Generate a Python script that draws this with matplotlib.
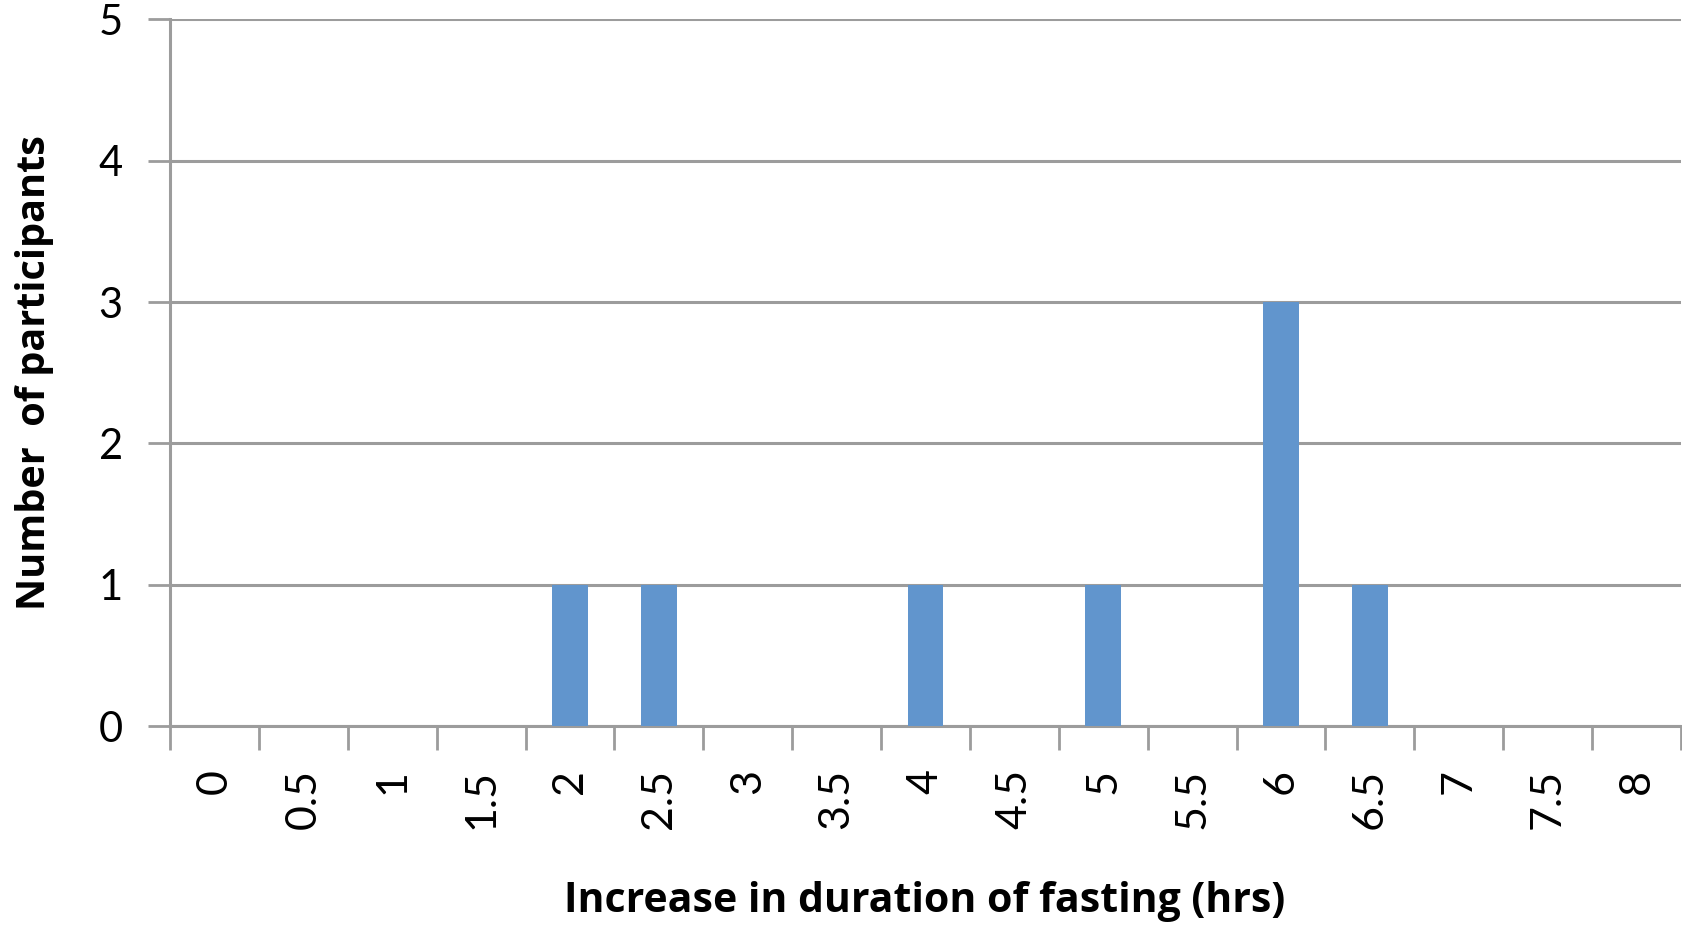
import matplotlib
matplotlib.use("Agg")
import matplotlib.pyplot as plt
import numpy as np

categories = ['0', '0.5', '1', '1.5', '2', '2.5', '3', '3.5', '4', '4.5',
              '5', '5.5', '6', '6.5', '7', '7.5', '8']
counts = [0, 0, 0, 0, 1, 1, 0, 0, 1, 0, 1, 0, 3, 1, 0, 0, 0]
y_ticks = [0, 1, 2, 3, 4, 5]

plt.rcParams['font.family'] = ['Lato', 'DejaVu Sans']

bar_color = '#6195CD'
grid_color = '#9c9c9c'

fig = plt.figure(figsize=(16.82, 9.30), dpi=100)
ax = fig.add_axes([170 / 1682, 1 - 726 / 930, 1511 / 1682, (726 - 19.5) / 930])

x = np.arange(len(categories))
ax.bar(x, counts, width=0.4, color=bar_color, zorder=3)

ax.set_xlim(-0.5, len(categories) - 0.5)
ax.set_ylim(0, 5)

# y axis
ax.set_yticks(y_ticks)
ax.set_yticklabels([str(v) for v in y_ticks], fontsize=30)
ax.tick_params(axis='y', direction='out', length=16, width=2,
               color=grid_color, pad=18)
ax.yaxis.grid(True, color=grid_color, linewidth=2.2, zorder=0)
ax.set_axisbelow(True)

# x axis: ticks at category boundaries, labels at centers
ax.set_xticks(np.arange(-0.5, len(categories), 1.0))
ax.set_xticklabels([])
ax.set_xticks(x, minor=True)
ax.set_xticklabels(categories, minor=True, rotation=90, fontsize=31)
ax.tick_params(axis='x', which='major', direction='out', length=17,
               width=2, color=grid_color)
ax.tick_params(axis='x', which='minor', length=0, pad=31)

for s in ['top', 'right']:
    ax.spines[s].set_visible(False)
for s in ['left', 'bottom']:
    ax.spines[s].set_color(grid_color)
    ax.spines[s].set_linewidth(2.2)

fig.text(35 / 1682, 1 - 373 / 930, 'Number  of participants', rotation=90,
         fontsize=28.5, fontweight='bold', ha='center', va='center',
         family=['Open Sans', 'DejaVu Sans'])
fig.text(925 / 1682, 1 - 901 / 930, 'Increase in duration of fasting (hrs)',
         fontsize=29.5, fontweight='bold', ha='center', va='center',
         family=['Open Sans', 'DejaVu Sans'])

fig.savefig('out.png', dpi=100)
